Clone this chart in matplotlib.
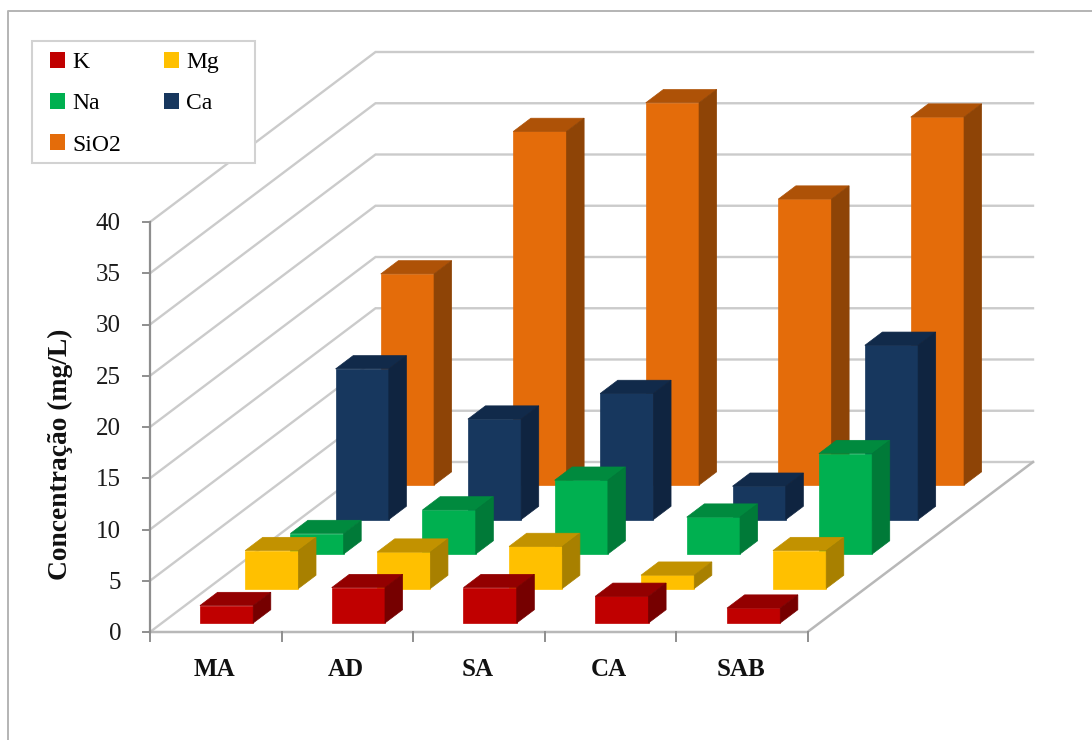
import matplotlib
import matplotlib.pyplot as plt
from matplotlib.patches import Patch, Rectangle

matplotlib.use('Agg')

plt.rcParams['font.family'] = ['Liberation Serif', 'DejaVu Serif']

sites = ['MA', 'AD', 'SA', 'CA', 'SAB']
y_ticks = [0, 5, 10, 15, 20, 25, 30, 35, 40]

# concentrations in mg/L, one list per ion
k = [1.7, 3.45, 3.45, 2.6, 1.45]
mg = [3.7, 3.55, 4.1, 1.3, 3.7]
na = [2.0, 4.3, 7.2, 3.6, 9.8]
ca = [14.7, 9.8, 12.3, 3.25, 17.0]
sio2 = [20.6, 34.5, 37.3, 27.9, 35.9]

series_names = ['K', 'Mg', 'Na', 'Ca', 'SiO2']
series_values = [k, mg, na, ca, sio2]

# front, top and side shades of each series
shades = [
    ('#C00000', '#930000', '#760000'),
    ('#FFC000', '#C29200', '#A88000'),
    ('#00B050', '#008A3E', '#007A38'),
    ('#17375E', '#112A4A', '#0F2440'),
    ('#E46C0A', '#AE5207', '#8E4406'),
]

# oblique projection of the chart box, in figure pixels
X0, Y0 = 150, 632
CAT_W = 131.5
UNIT_H = 10.25
DEPTH_X, DEPTH_Y = 45.1, -34.0
BAR_W = 0.405
BAR_D = 0.39


def project(cat, val, depth):
    return (X0 + cat * CAT_W + depth * DEPTH_X,
            Y0 - val * UNIT_H + depth * DEPTH_Y)


def draw_bar(ax, cat, val, depth, colors):
    # rows further back sit slightly wider apart
    left = cat * (1.002 + depth * 0.0014) + 0.289 - depth * 0.004
    right = left + BAR_W
    d0 = depth * 1.014 + 0.265
    d1 = d0 + BAR_D
    front, top, side = colors
    ax.fill(*zip(project(left, 0, d0), project(right, 0, d0),
                 project(right, val, d0), project(left, val, d0)),
            color=front, lw=0.5, zorder=3)
    ax.fill(*zip(project(left, val, d0), project(right, val, d0),
                 project(right, val, d1), project(left, val, d1)),
            color=top, lw=0.5, zorder=3)
    ax.fill(*zip(project(right, 0, d0), project(right, 0, d1),
                 project(right, val, d1), project(right, val, d0)),
            color=side, lw=0.5, zorder=3)


fig = plt.figure(figsize=(10.92, 7.4), dpi=100)
ax = fig.add_axes([0, 0, 1, 1])
ax.set_xlim(0, 1092)
ax.set_ylim(740, 0)
ax.axis('off')

n_cat = len(sites)
n_ser = len(series_names)
grid_color = '#cbcbcb'
axis_color = '#8e8e8e'

# outer frame of the chart area
ax.plot([1092, 8, 8], [11, 11, 740], color='#b4b4b4', lw=1.4, zorder=1)

# wall gridlines
for v in y_ticks:
    xs, ys = zip(project(0, v, 0), project(0, v, n_ser), project(n_cat, v, n_ser))
    ax.plot(xs, ys, color=grid_color, lw=1.7, zorder=1, solid_joinstyle='miter')

# floor edges
xs, ys = zip(project(0, 0, 0), project(n_cat, 0, 0), project(n_cat, 0, n_ser))
ax.plot(xs, ys, color='#b8b8b8', lw=1.8, zorder=2, solid_joinstyle='miter')

# value axis with ticks
xs, ys = zip(project(0, 0, 0), project(0, y_ticks[-1], 0))
ax.plot(xs, ys, color=axis_color, lw=1.6, zorder=2)
for v in y_ticks:
    px, py = project(0, v, 0)
    ax.plot([px - 7, px], [py, py], color=axis_color, lw=1.4, zorder=2)
    ax.text(px - 29, py + 2, str(v), ha='right', va='center', fontsize=18, color='#1a1a1a')

# category ticks and labels
for i in range(n_cat + 1):
    px, py = project(i, 0, 0)
    ax.plot([px, px], [py, py + 9], color=axis_color, lw=1.4, zorder=2)
for i, name in enumerate(sites):
    px, py = project(i + 0.5, 0, 0)
    ax.text(px - 1, py + 37, name, ha='center', va='center', fontsize=18,
            fontweight='bold', color='#111111')

ax.text(60, 454, 'Concentração (mg/L)', rotation=90, ha='center', va='center',
        fontsize=19.8, fontweight='bold', color='#111111')

# bars from the back row forward
for depth in range(n_ser - 1, -1, -1):
    for cat in range(n_cat):
        draw_bar(ax, cat, series_values[depth][cat], depth, shades[depth])

# legend box, wider than the entries need
ax.add_patch(Rectangle((32, 41), 223, 122, facecolor='white', edgecolor='#d2d2d2',
                       lw=1.5, zorder=4))
handles = [Patch(facecolor=shades[i][0], label=series_names[i]) for i in [0, 2, 4, 1, 3]]
leg = ax.legend(handles=handles, ncol=2, loc='upper left', bbox_to_anchor=(50, 52),
                bbox_transform=ax.transData, borderaxespad=0, borderpad=0, fontsize=17,
                handlelength=0.65, handleheight=0.65, handletextpad=0.3,
                columnspacing=1.8, labelspacing=0.85, frameon=False)
leg.set_zorder(5)
for handle in leg.legend_handles:
    handle.set_linewidth(0)

fig.savefig('out.png', dpi=100)
